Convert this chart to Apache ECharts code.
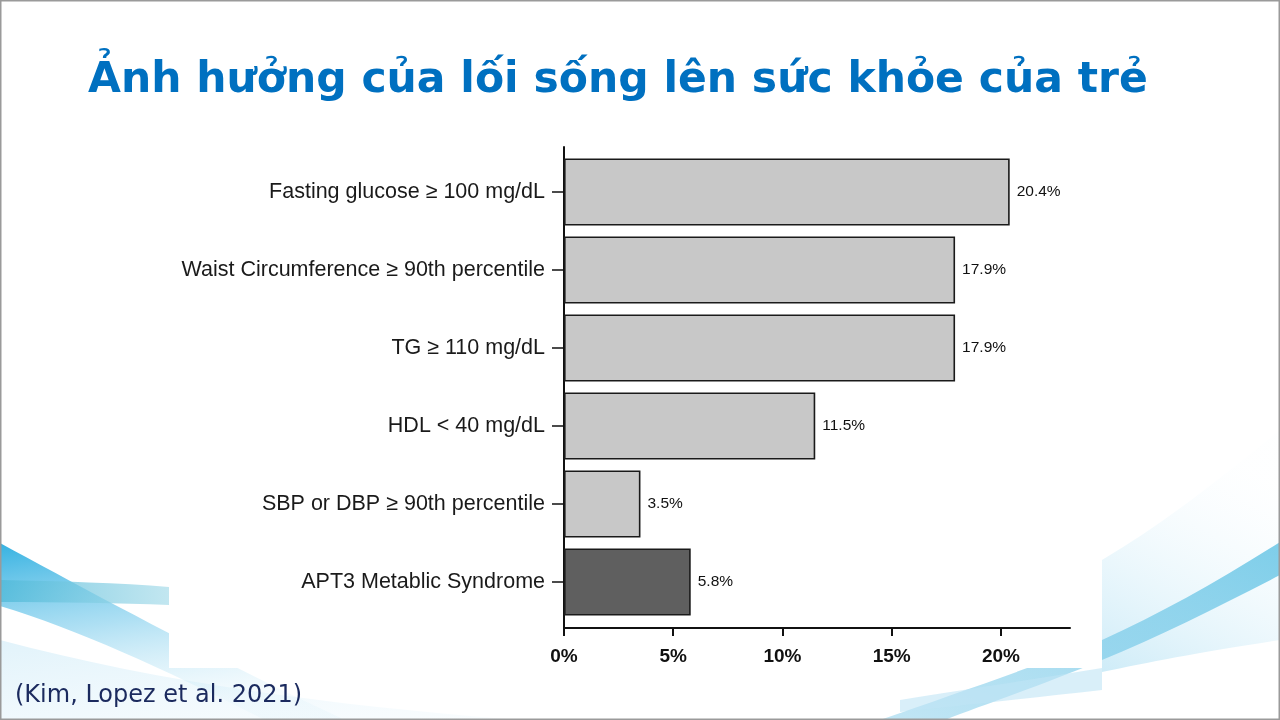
<!DOCTYPE html>
<html>
<head>
<meta charset="utf-8">
<script src="https://cdn.jsdelivr.net/npm/echarts@6/dist/echarts.min.js"></script>
<style>
  html, body { margin: 0; padding: 0; background: #fff; }
  #wrap { position: relative; width: 1280px; height: 720px; overflow: hidden; }
  #bg { position: absolute; left: 0; top: 0; }
  #chart { position: absolute; left: 0; top: 0; width: 1280px; height: 720px; }
</style>
</head>
<body>
<div id="wrap">
<svg id="bg" width="1280" height="720" viewBox="0 0 1280 720">
  <defs>
    <linearGradient id="gDiag" x1="0" y1="0" x2="0.3" y2="1">
      <stop offset="0" stop-color="#1ea9de" stop-opacity="0.9"/>
      <stop offset="0.5" stop-color="#6cc6ea" stop-opacity="0.55"/>
      <stop offset="1" stop-color="#d6eff9" stop-opacity="0.2"/>
    </linearGradient>
    <linearGradient id="gHor" x1="0" y1="0" x2="1" y2="0">
      <stop offset="0" stop-color="#4fb9d8" stop-opacity="0.75"/>
      <stop offset="1" stop-color="#a8dcea" stop-opacity="0.7"/>
    </linearGradient>
    <linearGradient id="gFaint" x1="0" y1="0" x2="1" y2="1">
      <stop offset="0" stop-color="#c9e9f7" stop-opacity="0.55"/>
      <stop offset="1" stop-color="#eef8fd" stop-opacity="0.3"/>
    </linearGradient>
    <linearGradient id="gRight" x1="0" y1="1" x2="1" y2="0">
      <stop offset="0" stop-color="#8fd1ec" stop-opacity="0.55"/>
      <stop offset="1" stop-color="#5fc2e4" stop-opacity="0.8"/>
    </linearGradient>
    <linearGradient id="gRightWide" x1="0" y1="1" x2="0.4" y2="0">
      <stop offset="0" stop-color="#c2e7f6" stop-opacity="0.8"/>
      <stop offset="1" stop-color="#f4fbfe" stop-opacity="0.1"/>
    </linearGradient>
  </defs>
  <path d="M0,640 C150,680 320,705 520,720 L0,720 Z" fill="url(#gFaint)"/>
  <path d="M0,543 C90,592 220,662 345,720 L265,720 C170,672 80,630 0,606 Z" fill="url(#gDiag)"/>
  <path d="M0,580 C60,581 120,583 169,587 L169,605 C120,603 60,602 0,602 Z" fill="url(#gHor)"/>
  <path d="M1102,560 C1170,520 1230,470 1280,430 L1280,640 C1200,652 1150,662 1102,672 Z" fill="url(#gRightWide)"/>
  <path d="M880,720 C960,692 1030,668 1102,640 C1160,614 1220,580 1280,542 L1280,575 C1220,606 1160,636 1102,660 C1040,686 980,706 945,720 Z" fill="url(#gRight)"/>
  <path d="M900,700 C960,690 1030,680 1102,668 L1102,690 C1030,698 960,706 900,712 Z" fill="#bfe5f5" opacity="0.6"/>
  <rect x="169" y="128" width="933" height="540" fill="#ffffff"/>
  <rect x="0.75" y="0.75" width="1278.5" height="718.5" fill="none" stroke="#9a9a9a" stroke-width="1.5"/>
</svg>
<div id="chart"></div>
</div>
<script>
const titleText = 'Ảnh hưởng của lối sống lên sức khỏe của trẻ';
const citation = '(Kim, Lopez et al. 2021)';
const categories = [
  'Fasting glucose ≥ 100 mg/dL',
  'Waist Circumference ≥ 90th percentile',
  'TG ≥ 110 mg/dL',
  'HDL < 40 mg/dL',
  'SBP or DBP ≥ 90th percentile',
  'APT3 Metablic Syndrome'
];
const values = [20.4, 17.9, 17.9, 11.5, 3.5, 5.8];
const xTicks = [0, 5, 10, 15, 20];
const xMax = 23.16;
const highlightIndex = 5;

const chart = echarts.init(document.getElementById('chart'), null, { renderer: 'canvas' });
chart.setOption({
  backgroundColor: 'transparent',
  animation: false,
  title: [
    {
      text: titleText, left: 83, top: 54,
      textStyle: { fontFamily: 'DejaVu Sans', fontWeight: 'bold', fontSize: 42.5, color: '#0070c0' }
    },
    {
      text: citation, left: 10, top: 679,
      textStyle: { fontFamily: 'DejaVu Sans', fontWeight: 'normal', fontSize: 24, color: '#1b2a5e' }
    }
  ],
  grid: [
    { left: 564, top: 153, width: 506, height: 468, containLabel: false },
    { left: 564, top: 147, width: 506, height: 481, containLabel: false }
  ],
  xAxis: [
    { gridIndex: 0, type: 'value', min: 0, max: xMax, show: false },
    {
      gridIndex: 1, type: 'value', min: 0, max: xMax, interval: 5,
      axisLine: { show: true, lineStyle: { color: '#111', width: 2 } },
      axisTick: { show: true, length: 8, lineStyle: { color: '#111', width: 2 }, customValues: xTicks },
      axisLabel: {
        customValues: xTicks, margin: 19,
        formatter: v => v + '%',
        fontFamily: 'Liberation Sans', fontWeight: 'bold', fontSize: 19, color: '#111'
      },
      splitLine: { show: false }
    }
  ],
  yAxis: [
    {
      gridIndex: 0, type: 'category', data: categories, inverse: true,
      axisLine: { show: false },
      axisTick: { show: true, alignWithLabel: true, length: 12, lineStyle: { color: '#111', width: 1.5 } },
      axisLabel: { margin: 19, fontFamily: 'Liberation Sans', fontSize: 21.5, color: '#1a1a1a' },
      splitLine: { show: false }
    },
    {
      gridIndex: 1, type: 'value', min: 0, max: 1,
      axisLine: { show: true, lineStyle: { color: '#111', width: 2 } },
      axisTick: { show: false }, axisLabel: { show: false }, splitLine: { show: false }
    }
  ],
  series: [
    {
      type: 'bar', xAxisIndex: 0, yAxisIndex: 0,
      data: values, barWidth: 67,
      itemStyle: {
        color: p => p.dataIndex === highlightIndex ? '#5f5f5f' : '#c8c8c8',
        borderColor: '#1a1a1a', borderWidth: 1.6
      },
      label: {
        show: true, position: 'right', distance: 7,
        formatter: p => p.value + '%',
        fontFamily: 'Liberation Sans', fontSize: 15.5, color: '#111'
      }
    },
    { type: 'scatter', xAxisIndex: 1, yAxisIndex: 1, data: [] }
  ]
});
</script>
</body>
</html>
